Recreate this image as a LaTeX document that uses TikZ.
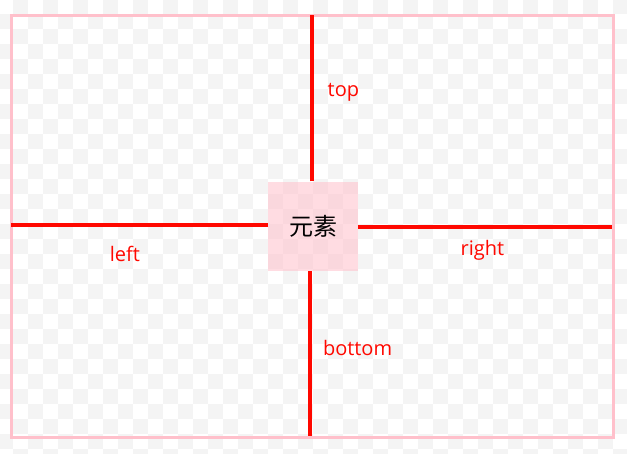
\documentclass[tikz,border=0pt]{standalone}
\usepackage{fontspec}
\setmainfont{Open Sans}
\newfontfamily\cjk{Noto Sans CJK SC}
\definecolor{checkgray}{RGB}{244,244,244}
\definecolor{linered}{RGB}{255,8,0}
\definecolor{framepink}{RGB}{255,192,203}

\begin{document}
\begin{tikzpicture}[x=1pt,y=-1pt,
  sideline/.style={draw=linered,line width=4pt},
  sidelabel/.style={text=linered,font=\fontsize{20}{22}\selectfont,inner sep=0pt},
  elem/.style={fill=framepink,fill opacity=.55,text opacity=1,minimum size=89.5pt,inner sep=0pt,font=\cjk\fontsize{24}{26}\selectfont}]

\useasboundingbox (0,0) rectangle (627,454);
\clip (0,0) rectangle (627,454);

% checker background
\foreach \i in {0,...,42}
  \foreach \j in {0,...,30}{
    \pgfmathtruncatemacro\odd{mod(\i+\j,2)}
    \ifnum\odd=1 \fill[checkgray] (-1.7+15*\i,-1+15*\j) rectangle ++(15,15); \fi
  }

\draw[framepink,line width=3pt] (11.5,15.5) rectangle (613.5,438);

\node[elem] (el) at (313,226.4) {元素};

\coordinate (topend)   at (311.7,15);
\coordinate (botend)   at (310,436);
\coordinate (leftend)  at (11,224.7);
\coordinate (rightend) at (612,227);

\path[sideline]
  (el.north -| topend)   edge node[sidelabel,pos=.51,anchor=base west,xshift=14pt]  {top}    (topend)
  (el.south -| botend)   edge node[sidelabel,pos=.509,anchor=base west,xshift=11pt] {bottom} (botend)
  (el.west |- leftend)   edge node[sidelabel,pos=.557,anchor=base,yshift=-37pt]     {left}   (leftend)
  (el.east |- rightend)  edge node[sidelabel,pos=.49,anchor=base,yshift=-29pt]      {right}  (rightend);

\end{tikzpicture}
\end{document}
